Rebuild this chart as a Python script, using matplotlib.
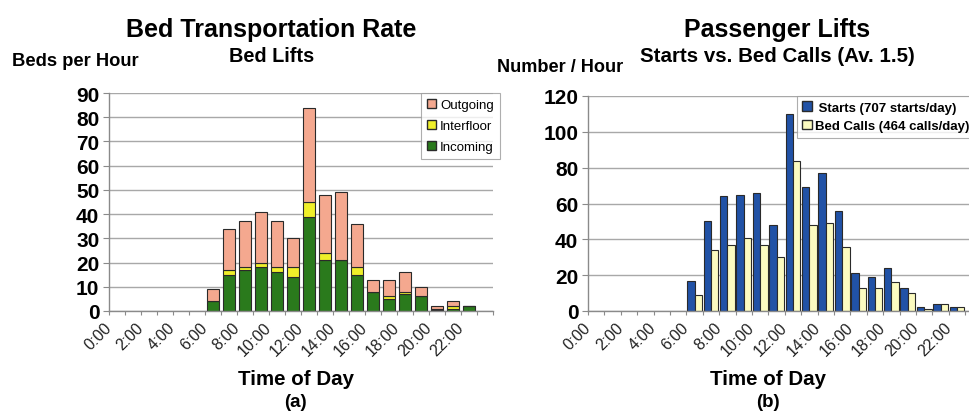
import matplotlib
matplotlib.use('Agg')
import matplotlib.pyplot as plt
from matplotlib.patches import Patch
import numpy as np

plt.rcParams['font.family'] = ['Liberation Sans', 'DejaVu Sans']

# data (hours 6:00 .. 22:00)
hours = list(range(6, 23))
time_labels = ['0:00', '2:00', '4:00', '6:00', '8:00', '10:00',
               '12:00', '14:00', '16:00', '18:00', '20:00', '22:00']

# (a) bed lifts, stacked
incoming = [4, 15, 17, 18, 16, 14, 39, 21, 21, 15, 8, 5, 7, 6, 0.5, 1, 2]
interfloor = [0, 2, 1, 2, 2, 4, 6, 3, 0, 3, 0, 1, 1, 0, 0.3, 1, 0]
outgoing = [5, 17, 19, 21, 19, 12, 39, 24, 28, 18, 5, 7, 8, 4, 1.2, 2, 0]

# (b) passenger lifts
starts = [17, 50, 64, 65, 66, 48, 110, 69, 77, 56, 21, 19, 24, 13, 2, 4, 2]
bed_calls = [9, 34, 37, 41, 37, 30, 84, 48, 49, 36, 13, 13, 16, 10, 1, 4, 2]

c_out = '#F4A88F'
c_inter = '#EFEF2A'
c_in = '#2A7A1C'
c_starts = '#2152A6'
c_bed = '#FCFBC0'
grid_c = '#A8A8A8'
edge_c = '#2a2a2a'

W, H = 970, 414
fig = plt.figure(figsize=(W / 100, H / 100), dpi=100)
fig.patch.set_facecolor('white')


def fx(px):
    return px / W


def fy(py):
    return 1 - py / H


def style_axes(ax, ymax, ystep):
    ax.set_xlim(0, 24)
    ax.set_ylim(0, ymax)
    ax.set_yticks(np.arange(0, ymax + 1, ystep))
    ax.yaxis.grid(True, color=grid_c, lw=1.0)
    ax.set_axisbelow(True)
    for s in ['top', 'right']:
        ax.spines[s].set_visible(False)
    for s in ['left', 'bottom']:
        ax.spines[s].set_color('#8a8a8a')
        ax.spines[s].set_linewidth(1.0)
    ax.set_xticks(range(25))
    labs = []
    for i in range(25):
        labs.append(time_labels[i // 2] if (i % 2 == 0 and i // 2 < len(time_labels)) else '')
    ax.set_xticklabels(labs, rotation=45, ha='right', va='center',
                       rotation_mode='anchor', fontsize=11.5, color='#222222')
    ax.tick_params(axis='x', length=3, color='#8a8a8a', pad=7)
    ax.tick_params(axis='y', length=4, color='#8a8a8a', pad=3, labelsize=15)
    for t in ax.get_yticklabels():
        t.set_fontweight('bold')


# (a) left chart
ax1 = fig.add_axes([fx(109), fy(312), fx(493 - 109), (312 - 94) / H])
x = np.array(hours) + 0.5
inc = np.array(incoming)
itf = np.array(interfloor)
out = np.array(outgoing)
ax1.bar(x, inc, 0.7, color=c_in, edgecolor=edge_c, lw=0.8)
ax1.bar(x, itf, 0.7, bottom=inc, color=c_inter, edgecolor=edge_c, lw=0.8)
ax1.bar(x, out, 0.7, bottom=inc + itf, color=c_out, edgecolor=edge_c, lw=0.8)
style_axes(ax1, 90, 10)

h1 = [Patch(facecolor=c_out, edgecolor=edge_c, label='Outgoing'),
      Patch(facecolor=c_inter, edgecolor=edge_c, label='Interfloor'),
      Patch(facecolor=c_in, edgecolor=edge_c, label='Incoming')]
leg1 = ax1.legend(handles=h1, loc='upper left', bbox_to_anchor=(fx(421), fy(94)),
                  bbox_transform=fig.transFigure, fontsize=9.5, frameon=True,
                  fancybox=False, handlelength=0.7, handleheight=0.7,
                  handletextpad=0.3, labelspacing=0.65, borderpad=0.45,
                  borderaxespad=0)
leg1.get_frame().set_edgecolor('#9a9a9a')
leg1.get_frame().set_linewidth(0.8)

# (b) right chart
ax2 = fig.add_axes([fx(588), fy(312), 24 * 16.4 / W, (312 - 97) / H])
ax2.bar(x - 0.225, starts, 0.45, color=c_starts, edgecolor=edge_c, lw=0.8)
ax2.bar(x + 0.225, bed_calls, 0.45, color=c_bed, edgecolor=edge_c, lw=0.8)
style_axes(ax2, 120, 20)

h2 = [Patch(facecolor=c_starts, edgecolor=edge_c, label=' Starts (707 starts/day)'),
      Patch(facecolor=c_bed, edgecolor=edge_c, label='Bed Calls (464 calls/day)')]
leg2 = ax2.legend(handles=h2, loc='upper left', bbox_to_anchor=(fx(797), fy(97)),
                  bbox_transform=fig.transFigure, frameon=True,
                  fancybox=False, handlelength=0.7, handleheight=0.7,
                  handletextpad=0.3, labelspacing=0.5, borderpad=0.4,
                  borderaxespad=0, prop={'size': 9.5, 'weight': 'bold'})
leg2.get_frame().set_edgecolor('#9a9a9a')
leg2.get_frame().set_linewidth(0.8)

# titles and labels
fig.text(fx(271), fy(30), 'Bed Transportation Rate', ha='center', va='center',
         fontsize=18, fontweight='bold')
fig.text(fx(272), fy(57), 'Bed Lifts', ha='center', va='center',
         fontsize=14.3, fontweight='bold')
fig.text(fx(12), fy(62), 'Beds per Hour', ha='left', va='center',
         fontsize=13.2, fontweight='bold')
fig.text(fx(296), fy(380), 'Time of Day', ha='center', va='center',
         fontsize=14.8, fontweight='bold')
fig.text(fx(295), fy(403), '(a)', ha='center', va='center',
         fontsize=13.5, fontweight='bold')

fig.text(fx(777), fy(30), 'Passenger Lifts', ha='center', va='center',
         fontsize=18, fontweight='bold')
fig.text(fx(777), fy(57), 'Starts vs. Bed Calls (Av. 1.5)', ha='center', va='center',
         fontsize=14.8, fontweight='bold')
fig.text(fx(497), fy(68), 'Number / Hour', ha='left', va='center',
         fontsize=13.1, fontweight='bold')
fig.text(fx(768), fy(380), 'Time of Day', ha='center', va='center',
         fontsize=14.8, fontweight='bold')
fig.text(fx(768), fy(403), '(b)', ha='center', va='center',
         fontsize=13.5, fontweight='bold')

fig.savefig('out.png', dpi=100)
